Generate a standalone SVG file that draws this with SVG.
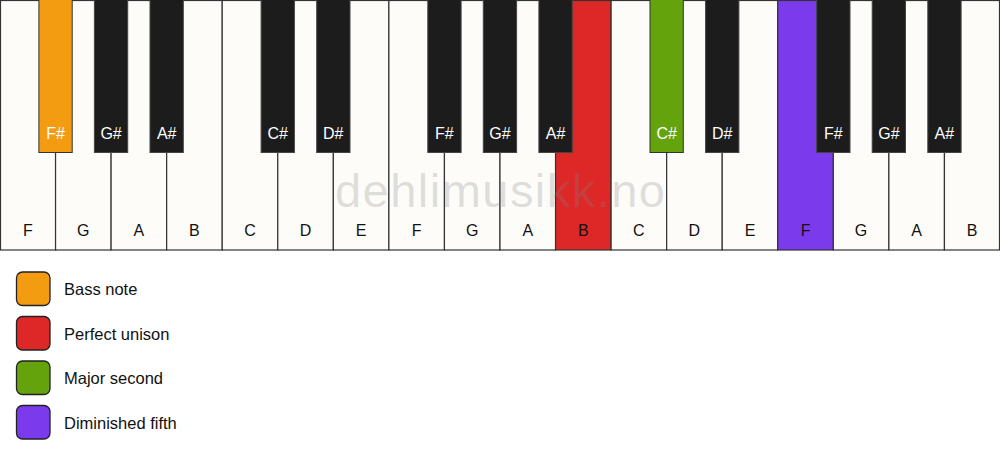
<svg xmlns="http://www.w3.org/2000/svg" width="1000" height="461" viewBox="0 0 1000 461">
<style>
.w{fill:#fdfcf9;stroke:#333;stroke-width:1.2}
.b{fill:#1c1c1c;stroke:#444;stroke-width:1}
.wl{font-family:"Liberation Sans",Arial,sans-serif;font-size:16px;fill:#111;text-anchor:middle}
.bl{font-family:"Liberation Sans",Arial,sans-serif;font-size:16px;fill:#fff;text-anchor:middle}
.lg{stroke:#222;stroke-width:1.3}
.lt{font-family:"Liberation Sans",Arial,sans-serif;font-size:16.5px;fill:#111}
</style>
<rect width="1000" height="461" fill="#fff"/>
<g id="white-keys">
<rect class="w" x="0.5" y="0.5" width="55.06" height="249.5"/>
<rect class="w" x="55.56" y="0.5" width="55.56" height="249.5"/>
<rect class="w" x="111.11" y="0.5" width="55.56" height="249.5"/>
<rect class="w" x="166.67" y="0.5" width="55.56" height="249.5"/>
<rect class="w" x="222.22" y="0.5" width="55.56" height="249.5"/>
<rect class="w" x="277.78" y="0.5" width="55.56" height="249.5"/>
<rect class="w" x="333.33" y="0.5" width="55.56" height="249.5"/>
<rect class="w" x="388.89" y="0.5" width="55.56" height="249.5"/>
<rect class="w" x="444.44" y="0.5" width="55.56" height="249.5"/>
<rect class="w" x="500" y="0.5" width="55.56" height="249.5"/>
<rect class="w" x="555.56" y="0.5" width="55.56" height="249.5" style="fill:#de2828"/>
<rect class="w" x="611.11" y="0.5" width="55.56" height="249.5"/>
<rect class="w" x="666.67" y="0.5" width="55.56" height="249.5"/>
<rect class="w" x="722.22" y="0.5" width="55.56" height="249.5"/>
<rect class="w" x="777.78" y="0.5" width="55.56" height="249.5" style="fill:#7c3aed"/>
<rect class="w" x="833.33" y="0.5" width="55.56" height="249.5"/>
<rect class="w" x="888.89" y="0.5" width="55.56" height="249.5"/>
<rect class="w" x="944.44" y="0.5" width="55.06" height="249.5"/>
</g>
<g id="white-labels">
<text class="wl" x="27.8" y="236">F</text>
<text class="wl" x="83.3" y="236">G</text>
<text class="wl" x="138.9" y="236">A</text>
<text class="wl" x="194.4" y="236">B</text>
<text class="wl" x="250" y="236">C</text>
<text class="wl" x="305.6" y="236">D</text>
<text class="wl" x="361.1" y="236">E</text>
<text class="wl" x="416.7" y="236">F</text>
<text class="wl" x="472.2" y="236">G</text>
<text class="wl" x="527.8" y="236">A</text>
<text class="wl" x="583.3" y="236">B</text>
<text class="wl" x="638.9" y="236">C</text>
<text class="wl" x="694.4" y="236">D</text>
<text class="wl" x="750" y="236">E</text>
<text class="wl" x="805.6" y="236">F</text>
<text class="wl" x="861.1" y="236">G</text>
<text class="wl" x="916.7" y="236">A</text>
<text class="wl" x="972.2" y="236">B</text>
</g>
<g id="black-keys">
<rect class="b" x="38.9" y="-1" width="33.3" height="153.5" style="fill:#f39c12;stroke:#333"/>
<rect class="b" x="94.4" y="-1" width="33.3" height="153.5"/>
<rect class="b" x="150" y="-1" width="33.3" height="153.5"/>
<rect class="b" x="261.1" y="-1" width="33.3" height="153.5"/>
<rect class="b" x="316.7" y="-1" width="33.3" height="153.5"/>
<rect class="b" x="427.8" y="-1" width="33.3" height="153.5"/>
<rect class="b" x="483.3" y="-1" width="33.3" height="153.5"/>
<rect class="b" x="538.9" y="-1" width="33.3" height="153.5"/>
<rect class="b" x="650" y="-1" width="33.3" height="153.5" style="fill:#65a30d;stroke:#333"/>
<rect class="b" x="705.6" y="-1" width="33.3" height="153.5"/>
<rect class="b" x="816.7" y="-1" width="33.3" height="153.5"/>
<rect class="b" x="872.2" y="-1" width="33.3" height="153.5"/>
<rect class="b" x="927.8" y="-1" width="33.3" height="153.5"/>
</g>
<g id="black-labels">
<text class="bl" x="55.6" y="139">F#</text>
<text class="bl" x="111.1" y="139">G#</text>
<text class="bl" x="166.7" y="139">A#</text>
<text class="bl" x="277.8" y="139">C#</text>
<text class="bl" x="333.3" y="139">D#</text>
<text class="bl" x="444.4" y="139">F#</text>
<text class="bl" x="500" y="139">G#</text>
<text class="bl" x="555.6" y="139">A#</text>
<text class="bl" x="666.7" y="139">C#</text>
<text class="bl" x="722.2" y="139">D#</text>
<text class="bl" x="833.3" y="139">F#</text>
<text class="bl" x="888.9" y="139">G#</text>
<text class="bl" x="944.4" y="139">A#</text>
</g>
<text id="watermark" x="335" y="207" font-family="'Liberation Sans',Arial,sans-serif" font-size="47" textLength="330" lengthAdjust="spacing" fill="#808080" fill-opacity="0.25">dehlimusikk.no</text>
<g id="legend">
<g id="legend-bass"><rect class="lg" x="16.5" y="272" width="33.5" height="33.5" rx="6" fill="#f39c12"/><text class="lt" x="64" y="295">Bass note</text></g>
<g id="legend-unison"><rect class="lg" x="16.5" y="316.5" width="33.5" height="33.5" rx="6" fill="#de2828"/><text class="lt" x="64" y="339.5">Perfect unison</text></g>
<g id="legend-second"><rect class="lg" x="16.5" y="361" width="33.5" height="33.5" rx="6" fill="#65a30d"/><text class="lt" x="64" y="384">Major second</text></g>
<g id="legend-fifth"><rect class="lg" x="16.5" y="405.5" width="33.5" height="33.5" rx="6" fill="#7c3aed"/><text class="lt" x="64" y="428.5">Diminished fifth</text></g>
</g>
</svg>
